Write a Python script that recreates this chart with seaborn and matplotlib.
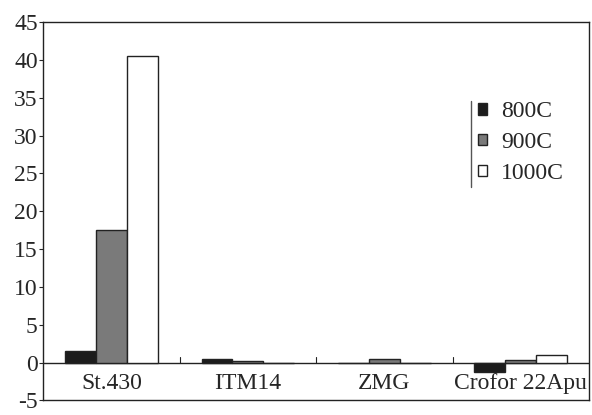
import pandas as pd
import matplotlib.pyplot as plt
import seaborn as sns

# data
alloys = ['St.430', 'ITM14', 'ZMG', 'Crofor 22Apu']
temps = ['800C', '900C', '1000C']
v800 = [1.5, 0.5, 0.0, -1.2]
v900 = [17.5, 0.2, 0.5, 0.3]
v1000 = [40.5, 0.0, 0.0, 1.0]

df = pd.DataFrame({
    'alloy': alloys * 3,
    'temp': [temps[0]] * 4 + [temps[1]] * 4 + [temps[2]] * 4,
    'value': v800 + v900 + v1000,
})

sns.set_style('white')
plt.rcParams['font.family'] = ['Liberation Serif', 'DejaVu Serif']
plt.rcParams['axes.unicode_minus'] = False

fig = plt.figure(figsize=(5.92, 4.15), dpi=100)
ax = fig.add_axes([0.073, 0.035, 0.922, 0.912])

palette = {'800C': '#1c1c1c', '900C': '#7a7a7a', '1000C': '#ffffff'}
sns.barplot(data=df, x='alloy', y='value', hue='temp', order=alloys,
            hue_order=temps, palette=palette, width=0.68, edgecolor='#222222',
            linewidth=1.0, saturation=1, ax=ax, legend=True)

ax.axhline(0, color='#222222', linewidth=1.0, zorder=0.5)
# category separator ticks on the value axis line
for b in [0.5, 1.5, 2.5]:
    ax.plot([b, b], [0, 0.8], color='#222222', linewidth=0.8)

ax.set_ylim(-5, 45)
ax.set_xlim(-0.5, 3.5)
ax.set_yticks(range(-5, 46, 5))
ax.set_xlabel('')
ax.set_ylabel('')
ax.tick_params(axis='y', labelsize=17, length=3, direction='out', left=True, pad=1)
ax.tick_params(axis='x', labelsize=17, length=0, pad=-20)
for s in ax.spines.values():
    s.set_color('#222222')
    s.set_linewidth(1.0)

handles, labels = ax.get_legend_handles_labels()
leg = ax.legend(handles=handles, labels=labels, loc='upper left',
                bbox_to_anchor=(0.78, 0.815), fontsize=17, frameon=False,
                handlelength=0.35, handleheight=0.35, handletextpad=0.6,
                labelspacing=0.42, borderaxespad=0)
ax.plot([0.784, 0.784], [0.565, 0.79], transform=ax.transAxes,
        color='#555555', linewidth=1.0)

fig.savefig('out.png', dpi=100)
